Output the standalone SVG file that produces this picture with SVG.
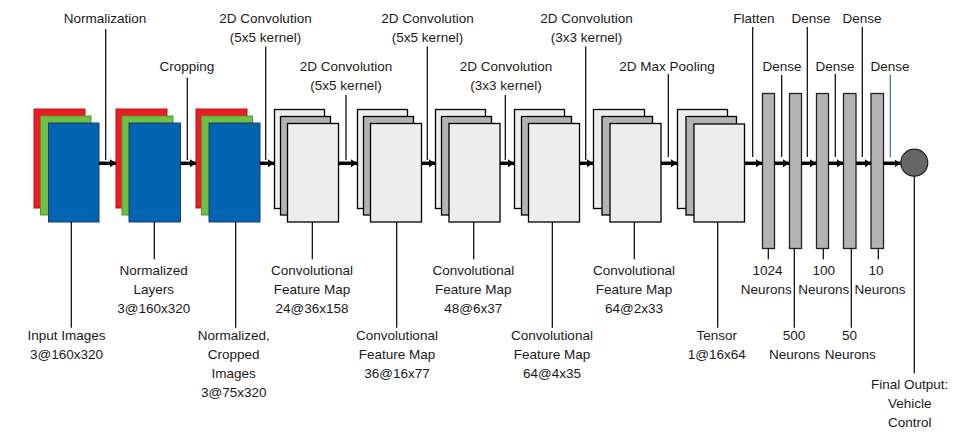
<svg xmlns="http://www.w3.org/2000/svg" width="967" height="437" viewBox="0 0 967 437">
<defs>
<marker id="ah" markerUnits="userSpaceOnUse" markerWidth="8" markerHeight="10" refX="6" refY="4" orient="auto">
<path d="M0,0 L6,4 L0,8 Z" fill="#000"/>
</marker>
<style>
text{font-family:"Liberation Sans",Arial,sans-serif;font-size:13.5px;fill:#1a1a1a;text-anchor:middle}
.r{fill:#ED1C24;stroke:#B5121B;stroke-width:1}
.g{fill:#72BF44;stroke:#4E9A2A;stroke-width:1}
.b{fill:#0064B0;stroke:#1F3F66;stroke-width:1}
.l{fill:#EEEEEE;stroke:#000;stroke-width:1.3}
.m{fill:#B3B3B3;stroke:#000;stroke-width:1.3}
.d{fill:#B3B3B3;stroke:#222;stroke-width:1.3}
.c{fill:none;stroke:#000;stroke-width:1.2}
.a{fill:none;stroke:#000;stroke-width:3.5;marker-end:url(#ah)}
</style>
</defs>
<rect width="967" height="437" fill="#fff"/>

<g id="input">
<rect class="r" x="34" y="109" width="51" height="99"/>
<rect class="g" x="40.5" y="116" width="50.5" height="99"/>
<rect class="b" x="48.5" y="123" width="50.5" height="99"/>
</g>
<g id="normalized">
<rect class="r" x="116" y="109" width="51" height="99"/>
<rect class="g" x="122" y="116" width="51" height="99"/>
<rect class="b" x="129" y="123" width="51.5" height="99"/>
</g>
<g id="cropped">
<rect class="r" x="196" y="109" width="51" height="99"/>
<rect class="g" x="201.5" y="116" width="51" height="99"/>
<rect class="b" x="209" y="123" width="51" height="99"/>
</g>
<g id="conv1">
<rect class="l" x="274.5" y="109.5" width="50" height="99"/>
<rect class="m" x="280.5" y="116.5" width="50" height="98.5"/>
<rect class="l" x="287.5" y="123.5" width="51" height="98.5"/>
</g>
<g id="conv2">
<rect class="l" x="357.5" y="109.5" width="50" height="99"/>
<rect class="m" x="363.5" y="116.5" width="50" height="98.5"/>
<rect class="l" x="370.5" y="123.5" width="51" height="98.5"/>
</g>
<g id="conv3">
<rect class="l" x="435.5" y="109.5" width="50" height="99"/>
<rect class="m" x="441.5" y="116.5" width="50" height="98.5"/>
<rect class="l" x="449" y="123.5" width="51" height="98.5"/>
</g>
<g id="conv4">
<rect class="l" x="514.5" y="109.5" width="50" height="99"/>
<rect class="m" x="521.5" y="116.5" width="50" height="98.5"/>
<rect class="l" x="528.5" y="123.5" width="51" height="98.5"/>
</g>
<g id="conv5">
<rect class="l" x="593.5" y="109.5" width="51" height="99"/>
<rect class="m" x="602" y="116.5" width="50.5" height="98.5"/>
<rect class="l" x="610" y="123.5" width="51" height="98.5"/>
</g>
<g id="tensor">
<rect class="l" x="677.5" y="109.5" width="50" height="99"/>
<rect class="m" x="686" y="116.5" width="50.5" height="98.5"/>
<rect class="l" x="694" y="124" width="50.5" height="98"/>
</g>
<g id="dense1"><rect class="d" x="762.5" y="93.5" width="12" height="155"/></g>
<g id="dense2"><rect class="d" x="789.5" y="93.5" width="12" height="155"/></g>
<g id="dense3"><rect class="d" x="816.5" y="93.5" width="12" height="155"/></g>
<g id="dense4"><rect class="d" x="843.5" y="93.5" width="12.5" height="155"/></g>
<g id="dense5"><rect class="d" x="871" y="93.5" width="12.5" height="155"/></g>
<g id="output"><circle cx="914.3" cy="162.7" r="13.5" fill="#666" stroke="#222" stroke-width="1.2"/></g>

<g id="connectors">
<line class="a" x1="99" y1="163.3" x2="116" y2="163.3"/>
<line class="a" x1="180.5" y1="163.3" x2="196" y2="163.3"/>
<line class="a" x1="260" y1="163.3" x2="274" y2="163.3"/>
<line class="a" x1="338.5" y1="163.3" x2="357" y2="163.3"/>
<line class="a" x1="421.5" y1="163.3" x2="435" y2="163.3"/>
<line class="a" x1="500" y1="163.3" x2="514" y2="163.3"/>
<line class="a" x1="579.5" y1="163.3" x2="593" y2="163.3"/>
<line class="a" x1="661" y1="163.3" x2="677" y2="163.3"/>
<line class="a" x1="744.5" y1="163.3" x2="762" y2="163.3"/>
<line class="a" x1="774.5" y1="163.3" x2="789" y2="163.3"/>
<line class="a" x1="801.5" y1="163.3" x2="816" y2="163.3"/>
<line class="a" x1="828.5" y1="163.3" x2="843" y2="163.3"/>
<line class="a" x1="856" y1="163.3" x2="871" y2="163.3"/>
<line class="a" x1="883.5" y1="163.3" x2="900.5" y2="163.3"/>

<line class="c" x1="105.7" y1="29" x2="105.7" y2="160"/>
<line class="c" x1="187.3" y1="77.5" x2="187.3" y2="160"/>
<line class="c" x1="265.7" y1="46.5" x2="265.7" y2="160"/>
<line class="c" x1="346" y1="95" x2="346" y2="160"/>
<line class="c" x1="427.3" y1="46.5" x2="427.3" y2="160"/>
<line class="c" x1="505.3" y1="95" x2="505.3" y2="160"/>
<line class="c" x1="585.7" y1="46.5" x2="585.7" y2="160"/>
<line class="c" x1="668.3" y1="74" x2="668.3" y2="157"/>
<line class="c" x1="752.7" y1="27" x2="752.7" y2="157"/>
<line class="c" x1="781.7" y1="75" x2="781.7" y2="157"/>
<line class="c" x1="807.3" y1="27" x2="807.3" y2="157"/>
<line class="c" x1="835.3" y1="74" x2="835.3" y2="157"/>
<line class="c" x1="862.3" y1="27" x2="862.3" y2="157"/>
<line x1="890.3" y1="75" x2="890.3" y2="157" stroke="#2E6DB4" stroke-width="1.2"/>

<line class="c" x1="71.3" y1="222" x2="71.3" y2="327.7"/>
<line class="c" x1="154.3" y1="222" x2="154.3" y2="259.3"/>
<line class="c" x1="235.7" y1="222" x2="235.7" y2="327.7"/>
<line class="c" x1="312.3" y1="222" x2="312.3" y2="259.3"/>
<line class="c" x1="396.7" y1="222" x2="396.7" y2="327.7"/>
<line class="c" x1="473.7" y1="222" x2="473.7" y2="259.3"/>
<line class="c" x1="552.3" y1="222" x2="552.3" y2="327.7"/>
<line class="c" x1="634.3" y1="222" x2="634.3" y2="259.3"/>
<line class="c" x1="717.7" y1="222" x2="717.7" y2="327.7"/>
<line class="c" x1="768.3" y1="248.5" x2="768.3" y2="259.3"/>
<line class="c" x1="794.3" y1="248.5" x2="794.3" y2="327.7"/>
<line class="c" x1="823.3" y1="248.5" x2="823.3" y2="259.3"/>
<line class="c" x1="851.3" y1="248.5" x2="851.3" y2="327.7"/>
<line class="c" x1="878.3" y1="248.5" x2="878.3" y2="259.3"/>
<line class="c" x1="914.3" y1="176.2" x2="914.3" y2="373.3"/>
</g>

<g id="labels">
<text x="105" y="22.5">Normalization</text>
<text x="187" y="70.5">Cropping</text>
<text x="265.5" y="22.5">2D Convolution</text>
<text x="265.5" y="41.5">(5x5 kernel)</text>
<text x="346" y="70.5">2D Convolution</text>
<text x="346" y="89.5">(5x5 kernel)</text>
<text x="427.5" y="22.5">2D Convolution</text>
<text x="427.5" y="41.5">(5x5 kernel)</text>
<text x="506" y="70.5">2D Convolution</text>
<text x="506" y="89.5">(3x3 kernel)</text>
<text x="586.5" y="22.5">2D Convolution</text>
<text x="586.5" y="41.5">(3x3 kernel)</text>
<text x="667" y="70.5">2D Max Pooling</text>
<text x="754" y="22.5">Flatten</text>
<text x="782" y="70.5">Dense</text>
<text x="811" y="22.5">Dense</text>
<text x="835" y="71">Dense</text>
<text x="862" y="22.5">Dense</text>
<text x="890" y="70.5">Dense</text>

<text x="66.5" y="340">Input Images</text>
<text x="66.5" y="358.7">3@160x320</text>
<text x="153.7" y="275">Normalized</text>
<text x="153.7" y="294">Layers</text>
<text x="153.7" y="313">3@160x320</text>
<text x="233.7" y="340">Normalized,</text>
<text x="233.7" y="358.7">Cropped</text>
<text x="233.7" y="377.7">Images</text>
<text x="233.7" y="396.7">3@75x320</text>
<text x="312" y="275">Convolutional</text>
<text x="312" y="294">Feature Map</text>
<text x="312" y="313">24@36x158</text>
<text x="397" y="340">Convolutional</text>
<text x="397" y="358.7">Feature Map</text>
<text x="397" y="377.7">36@16x77</text>
<text x="473.3" y="275">Convolutional</text>
<text x="473.3" y="294">Feature Map</text>
<text x="473.3" y="313">48@6x37</text>
<text x="552" y="340">Convolutional</text>
<text x="552" y="358.7">Feature Map</text>
<text x="552" y="377.7">64@4x35</text>
<text x="634" y="275">Convolutional</text>
<text x="634" y="294">Feature Map</text>
<text x="634" y="313">64@2x33</text>
<text x="716.7" y="340">Tensor</text>
<text x="716.7" y="358.7">1@16x64</text>
<text x="767.5" y="275">1024</text>
<text x="766.3" y="294">Neurons</text>
<text x="794" y="340">500</text>
<text x="794.5" y="358.7">Neurons</text>
<text x="823.7" y="275">100</text>
<text x="823.7" y="294">Neurons</text>
<text x="849.5" y="340">50</text>
<text x="850.2" y="358.7">Neurons</text>
<text x="876" y="275">10</text>
<text x="880" y="294">Neurons</text>
<text x="909.7" y="388.5">Final Output:</text>
<text x="909.7" y="407.5">Vehicle</text>
<text x="909.7" y="426.7">Control</text>
</g>
</svg>
